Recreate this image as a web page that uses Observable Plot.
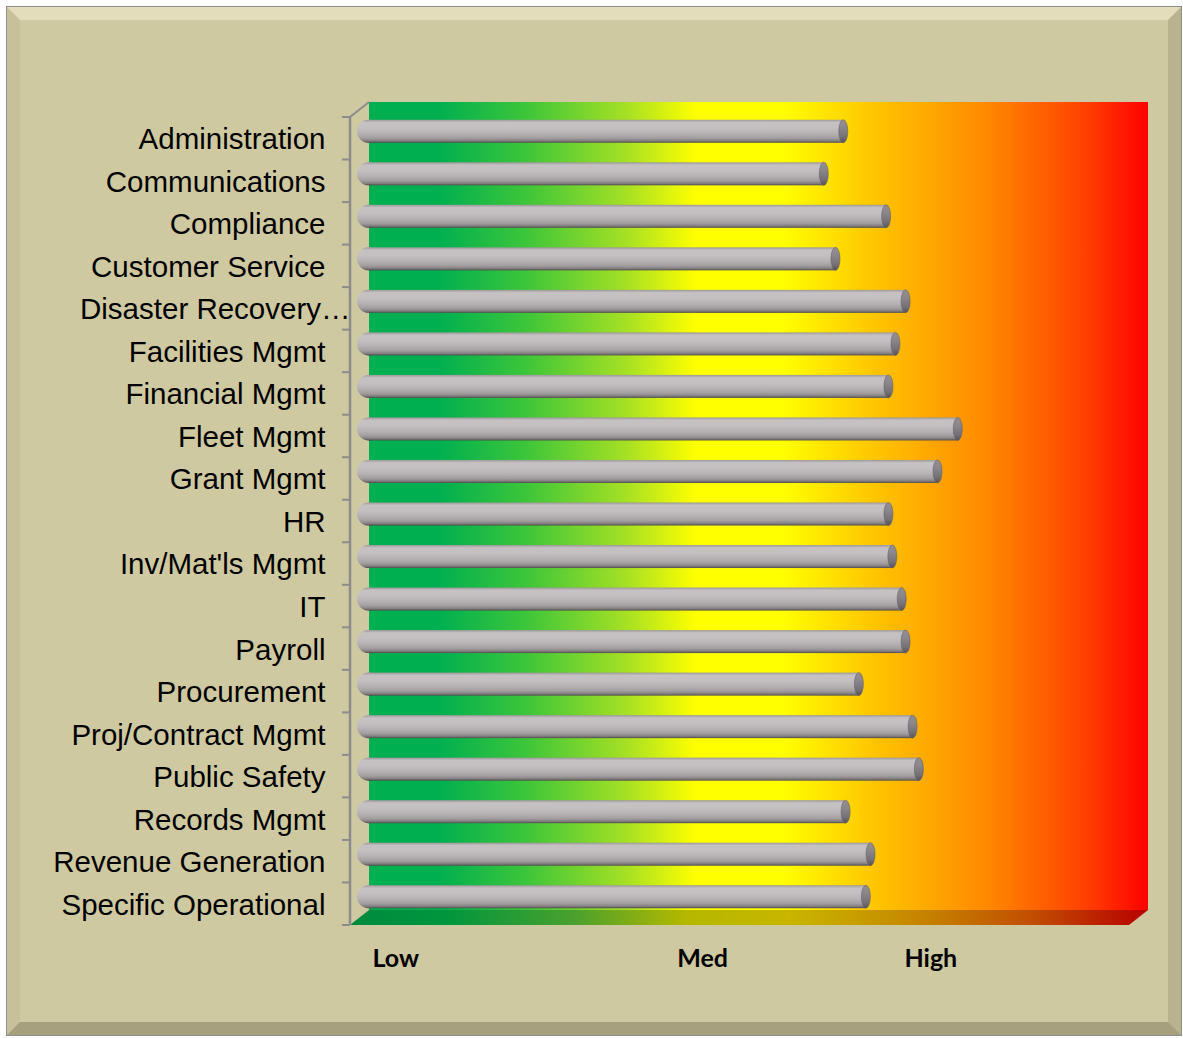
<!DOCTYPE html>
<html><head><meta charset="utf-8">
<script src="https://cdn.jsdelivr.net/npm/d3@7"></script>
<script src="https://cdn.jsdelivr.net/npm/@observablehq/plot@0.6"></script>
<style>
html,body{margin:0;padding:0;background:#ffffff;}
#wrap{position:relative;width:1183px;height:1038px;overflow:hidden;}
#bg{position:absolute;left:7px;top:7px;width:1174px;height:1028px;box-sizing:border-box;background:#cfc9a2;border:13px solid;border-color:#e3ddbb #b8b28e #a6a07f #c6c09b;outline:1px solid #8e8e8e;}
#chart{position:absolute;left:0;top:0;}
</style></head><body>
<div id="wrap"><div id="bg"></div><div id="chart"></div></div>
<script>
// ---- data ----
const categories = ["Administration","Communications","Compliance","Customer Service","Disaster Recovery…","Facilities Mgmt","Financial Mgmt","Fleet Mgmt","Grant Mgmt","HR","Inv/Mat'ls Mgmt","IT","Payroll","Procurement","Proj/Contract Mgmt","Public Safety","Records Mgmt","Revenue Generation","Specific Operational"];
const scores = [6.30,6.05,6.85,6.20,7.10,6.97,6.88,7.77,7.51,6.88,6.93,7.05,7.10,6.50,7.19,7.27,6.33,6.65,6.59];
const levelTicks = [0.58, 4.52, 7.45];
const levelLabels = ["Low","Med","High"];
const xDomain = [0, 10];

const data = categories.map((c, i) => ({cat: c, v: scores[i]}));

// ---- layout constants ----
const W = 1183, H = 1038;
const ML = 350, MR = 54, MT = 117, MB = 113;
const DX = 19, DY = -15;          // depth of back wall
const BAR_DX = 7, BAR_DY = -7;    // bars sit at mid depth
const BAR_H = 23;
const BAND = (H - MT - MB) / categories.length;
const BAR_INSET = (BAND - BAR_H) / 2;

const NS = "http://www.w3.org/2000/svg";
function el(tag, attrs) { const e = document.createElementNS(NS, tag); for (const k in attrs) e.setAttribute(k, attrs[k]); return e; }
function grad(id, stops, vertical) {
  const g = el("linearGradient", {id, x1: 0, y1: 0, x2: vertical ? 0 : 1, y2: vertical ? 1 : 0});
  for (const [o, c] of stops) g.append(el("stop", {offset: o, "stop-color": c}));
  return g;
}

function defs() {
  const d = el("defs", {});
  d.append(grad("wallGrad", [[0,"#00b050"],[0.09,"#00b050"],[0.20,"#3cc53a"],[0.33,"#a6e024"],[0.42,"#ffff00"],[0.53,"#ffff00"],[0.66,"#ffc000"],[0.79,"#ff8a00"],[0.92,"#ff4000"],[1,"#ff0000"]], false));
  d.append(grad("floorGrad", [[0,"#008a3e"],[0.12,"#00963e"],[0.28,"#4aa02e"],[0.42,"#b4b800"],[0.55,"#c8b600"],[0.70,"#c68a00"],[0.85,"#c25000"],[1,"#b80000"]], false));
  d.append(grad("cylGrad", [[0,"#9c989a"],[0.12,"#c6c2c4"],[0.35,"#c4c0c2"],[0.6,"#b6b2b4"],[0.8,"#a29ea0"],[0.92,"#827e80"],[1,"#4e4a4c"]], true));
  d.append(grad("capGrad", [[0,"#948f94"],[0.35,"#8a868a"],[0.75,"#747076"],[1,"#555155"]], true));
  return d;
}

function chrome(index, scales, values, dim) {
  const {width, height, marginLeft: l, marginRight: r, marginTop: t, marginBottom: b} = dim;
  const x0 = l, x1 = width - r, y0 = t, y1 = height - b;
  const g = el("g", {});
  g.append(el("rect", {x: x0 + DX, y: y0 + DY, width: x1 - x0, height: y1 - y0, fill: "url(#wallGrad)"}));
  g.append(el("polygon", {points: `${x0},${y1} ${x1},${y1} ${x1 + DX},${y1 + DY} ${x0 + DX},${y1 + DY}`, fill: "url(#floorGrad)"}));
  const stroke = "#8c8c8c";
  g.append(el("line", {x1: x0, y1: y0, x2: x0, y2: y1, stroke, "stroke-width": 2.5}));
  g.append(el("line", {x1: x0, y1: y0, x2: x0 + DX, y2: y0 + DY, stroke, "stroke-width": 2}));
  const y = scales.y;
  const bounds = [];
  if (y && y.bandwidth) {
    for (const c of categories) bounds.push(y(c));
    bounds.push(y(categories[categories.length - 1]) + y.bandwidth());
  } else {
    const n = categories.length;
    for (let i = 0; i <= n; i++) bounds.push(y0 + (y1 - y0) * i / n);
  }
  for (const yy of bounds) g.append(el("line", {x1: x0 - 8, y1: yy, x2: x0, y2: yy, stroke, "stroke-width": 2}));
  return g;
}

const barCommon = {y: "cat", insetTop: BAR_INSET, insetBottom: BAR_INSET, dx: BAR_DX, dy: BAR_DY};

const chart = Plot.plot({
  width: W, height: H,
  marginLeft: ML, marginRight: MR, marginTop: MT, marginBottom: MB,
  style: {background: "transparent", fontFamily: "'Liberation Sans', Arial, sans-serif", overflow: "visible"},
  x: {domain: xDomain, axis: null},
  y: {domain: categories, padding: 0, round: false, axis: null},
  marks: [
    defs,
    chrome,
    // rounded left end of each cylinder
    Plot.barX(data, {...barCommon, x1: () => 0, x2: () => 0, insetLeft: 0, insetRight: -24, rx: 11.5, ry: 11.5, fill: "url(#cylGrad)"}),
    // cylinder body
    Plot.barX(data, {...barCommon, x1: () => 0, x2: "v", insetLeft: 11.5, insetRight: 4.5, fill: "url(#cylGrad)"}),
    // elliptical right cap
    Plot.barX(data, {...barCommon, x1: "v", x2: "v", insetLeft: -9, insetRight: 0, rx: 4.5, ry: 11.5, fill: "url(#capGrad)", stroke: "#66626a", strokeWidth: 0.6}),
    // category labels
    Plot.text(categories.filter(c => !c.endsWith("…")), {y: d => d, text: d => d, frameAnchor: "left", textAnchor: "end", dx: -25, dy: 1, fontSize: 29.5, fill: "#000"}),
    Plot.text(categories.filter(c => c.endsWith("…")), {y: d => d, text: d => d, frameAnchor: "left", textAnchor: "end", dx: 0, dy: 1, fontSize: 29.5, fill: "#000"}),
    // level labels
    Plot.text(levelTicks, {x: d => d, text: (d, i) => levelLabels[i], frameAnchor: "bottom", dy: 41, fontFamily: "Lato, 'Open Sans', sans-serif", fontWeight: "bold", fontSize: 25, fill: "#000"})
  ]
});
document.getElementById("chart").append(chart);
</script>
</body></html>
